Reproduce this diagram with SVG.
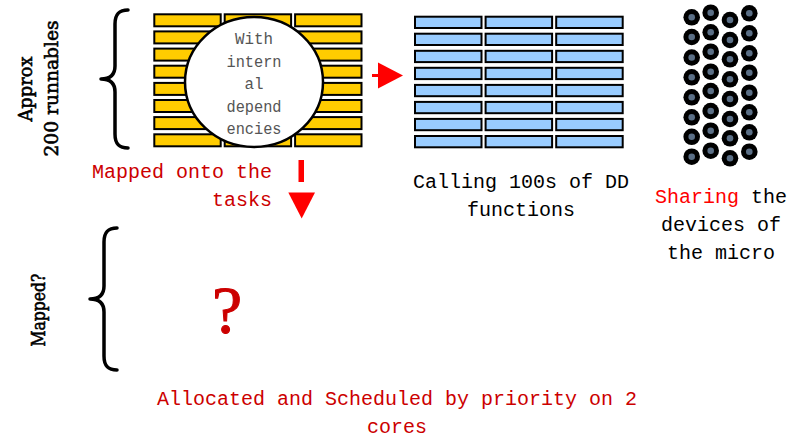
<svg xmlns="http://www.w3.org/2000/svg" xmlns:xlink="http://www.w3.org/1999/xlink" width="796" height="439" viewBox="0 0 796 439">
  <style>
    .mono { font-family: "Liberation Mono", "DejaVu Sans Mono", monospace; font-size: 20px; }
    .dark { fill: #cc0000; }
    .black { fill: #000000; }
    .side { font-family: "DejaVu Serif", "Liberation Serif", serif; font-size: 19px; fill: #000000; stroke: #000000; stroke-width: 0.6; text-anchor: middle; }
    .brace { fill: none; stroke: #000000; stroke-width: 3.5; stroke-linecap: round; stroke-linejoin: round; }
    .ybar { fill: #ffcc00; stroke: #000000; stroke-width: 2; }
    .bbar { fill: #99ccff; stroke: #000000; stroke-width: 2; }
    .inner { font-family: "Liberation Mono", "DejaVu Sans Mono", monospace; font-size: 16px; fill: #555555; text-anchor: middle; }
    .arrow { fill: #ff0000; }
  </style>
  <defs>
    <g id="dev">
      <circle r="8.3" fill="#000000"/>
      <circle r="3.3" fill="#5b6f86"/>
    </g>
    <rect id="yb" width="66.4" height="12" class="ybar"/>
    <rect id="bb" width="66.5" height="11.3" class="bbar"/>
  </defs>
  <rect width="796" height="439" fill="#ffffff"/>

  <!-- runnables: side label and brace -->
  <g id="runnables-label">
    <text class="side" transform="translate(31.5,89) rotate(-90)" textLength="65" lengthAdjust="spacingAndGlyphs">Approx</text>
    <text class="side" transform="translate(57.5,88.5) rotate(-90)" textLength="136" lengthAdjust="spacingAndGlyphs">200 runnables</text>
    <path class="brace" d="M128,10 C119,10 115,14 115,24 L115,66 C115,74 111,79 101,79 C111,79 115,84 115,92 L115,134 C115,144 119,148 128,148"/>
  </g>

  <!-- runnables grid with dependency bubble -->
  <g id="runnables">
    <g>
      <use xlink:href="#yb" x="154.3" y="14.3"/><use xlink:href="#yb" x="224.7" y="14.3"/><use xlink:href="#yb" x="295.1" y="14.3"/>
      <use xlink:href="#yb" x="154.3" y="31.4"/><use xlink:href="#yb" x="224.7" y="31.4"/><use xlink:href="#yb" x="295.1" y="31.4"/>
      <use xlink:href="#yb" x="154.3" y="48.6"/><use xlink:href="#yb" x="224.7" y="48.6"/><use xlink:href="#yb" x="295.1" y="48.6"/>
      <use xlink:href="#yb" x="154.3" y="65.7"/><use xlink:href="#yb" x="224.7" y="65.7"/><use xlink:href="#yb" x="295.1" y="65.7"/>
      <use xlink:href="#yb" x="154.3" y="82.9"/><use xlink:href="#yb" x="224.7" y="82.9"/><use xlink:href="#yb" x="295.1" y="82.9"/>
      <use xlink:href="#yb" x="154.3" y="100.0"/><use xlink:href="#yb" x="224.7" y="100.0"/><use xlink:href="#yb" x="295.1" y="100.0"/>
      <use xlink:href="#yb" x="154.3" y="117.1"/><use xlink:href="#yb" x="224.7" y="117.1"/><use xlink:href="#yb" x="295.1" y="117.1"/>
      <use xlink:href="#yb" x="154.3" y="134.3"/><use xlink:href="#yb" x="224.7" y="134.3"/><use xlink:href="#yb" x="295.1" y="134.3"/>
    </g>
    <g id="dependencies">
      <ellipse cx="254" cy="82" rx="69" ry="65" fill="#ffffff" stroke="#000000" stroke-width="2.5"/>
      <text class="inner" x="254" y="43.5" textLength="38" lengthAdjust="spacingAndGlyphs">With</text>
      <text class="inner" x="254" y="66.5" textLength="55" lengthAdjust="spacingAndGlyphs">intern</text>
      <text class="inner" x="254" y="88.5" textLength="19" lengthAdjust="spacingAndGlyphs">al</text>
      <text class="inner" x="254" y="111.5" textLength="55" lengthAdjust="spacingAndGlyphs">depend</text>
      <text class="inner" x="254" y="133.5" textLength="55" lengthAdjust="spacingAndGlyphs">encies</text>
    </g>
  </g>

  <g id="mapped-label">
    <text class="mono dark" x="272" y="178" text-anchor="end">Mapped onto the</text>
    <text class="mono dark" x="272" y="206" text-anchor="end">tasks</text>
  </g>

  <!-- device driver functions -->
  <g id="dd-functions">
    <use xlink:href="#bb" x="415" y="16.7"/><use xlink:href="#bb" x="485.6" y="16.7"/><use xlink:href="#bb" x="556.2" y="16.7"/>
    <use xlink:href="#bb" x="415" y="33.7"/><use xlink:href="#bb" x="485.6" y="33.7"/><use xlink:href="#bb" x="556.2" y="33.7"/>
    <use xlink:href="#bb" x="415" y="50.8"/><use xlink:href="#bb" x="485.6" y="50.8"/><use xlink:href="#bb" x="556.2" y="50.8"/>
    <use xlink:href="#bb" x="415" y="67.8"/><use xlink:href="#bb" x="485.6" y="67.8"/><use xlink:href="#bb" x="556.2" y="67.8"/>
    <use xlink:href="#bb" x="415" y="84.9"/><use xlink:href="#bb" x="485.6" y="84.9"/><use xlink:href="#bb" x="556.2" y="84.9"/>
    <use xlink:href="#bb" x="415" y="101.9"/><use xlink:href="#bb" x="485.6" y="101.9"/><use xlink:href="#bb" x="556.2" y="101.9"/>
    <use xlink:href="#bb" x="415" y="118.9"/><use xlink:href="#bb" x="485.6" y="118.9"/><use xlink:href="#bb" x="556.2" y="118.9"/>
    <use xlink:href="#bb" x="415" y="136.0"/><use xlink:href="#bb" x="485.6" y="136.0"/><use xlink:href="#bb" x="556.2" y="136.0"/>
    <text class="mono black" x="521" y="188" text-anchor="middle">Calling 100s of DD</text>
    <text class="mono black" x="521" y="216" text-anchor="middle">functions</text>
  </g>

  <!-- shared micro devices -->
  <g id="devices">
    <use xlink:href="#dev" x="691.7" y="17.3"/><use xlink:href="#dev" x="691.7" y="37"/><use xlink:href="#dev" x="691.7" y="57.5"/><use xlink:href="#dev" x="691.7" y="77.3"/>
    <use xlink:href="#dev" x="691.7" y="97.3"/><use xlink:href="#dev" x="691.7" y="117.3"/><use xlink:href="#dev" x="691.7" y="136.8"/><use xlink:href="#dev" x="691.7" y="156.7"/>
    <use xlink:href="#dev" x="710.7" y="12.7"/><use xlink:href="#dev" x="710.7" y="32.3"/><use xlink:href="#dev" x="710.7" y="51.7"/><use xlink:href="#dev" x="710.7" y="71.7"/>
    <use xlink:href="#dev" x="710.7" y="91"/><use xlink:href="#dev" x="710.7" y="111"/><use xlink:href="#dev" x="710.7" y="130.7"/><use xlink:href="#dev" x="710.7" y="150.7"/>
    <use xlink:href="#dev" x="730" y="20"/><use xlink:href="#dev" x="730" y="40"/><use xlink:href="#dev" x="730" y="59.3"/><use xlink:href="#dev" x="730" y="79.3"/>
    <use xlink:href="#dev" x="730" y="99"/><use xlink:href="#dev" x="730" y="119"/><use xlink:href="#dev" x="730" y="138.3"/><use xlink:href="#dev" x="730" y="158.3"/>
    <use xlink:href="#dev" x="749.3" y="13.3"/><use xlink:href="#dev" x="749.3" y="33.3"/><use xlink:href="#dev" x="749.3" y="53.3"/><use xlink:href="#dev" x="749.3" y="72.7"/>
    <use xlink:href="#dev" x="749.3" y="92.7"/><use xlink:href="#dev" x="749.3" y="112.3"/><use xlink:href="#dev" x="749.3" y="132.3"/><use xlink:href="#dev" x="749.3" y="151.7"/>
    <text class="mono black" x="721" y="203" text-anchor="middle"><tspan fill="#ff0000">Sharing</tspan> the</text>
    <text class="mono black" x="721" y="231" text-anchor="middle">devices of</text>
    <text class="mono black" x="721" y="259" text-anchor="middle">the micro</text>
  </g>

  <!-- lower stage: mapping onto cores -->
  <g id="cores-label">
    <text class="side" transform="translate(44.5,310) rotate(-90)" textLength="73" lengthAdjust="spacingAndGlyphs">Mapped?</text>
    <path class="brace" d="M117,228 C108,228 104,232 104,242 L104,286 C104,294 100,299 90,299 C100,299 104,304 104,312 L104,356 C104,366 108,370 117,370"/>
  </g>

  <g id="unknown">
    <text x="227" y="333" text-anchor="middle" font-family="Liberation Serif, serif" font-size="68" fill="#cc0000" stroke="#cc0000" stroke-width="1">?</text>
  </g>

  <g id="allocation">
    <text class="mono dark" x="397" y="405" text-anchor="middle">Allocated and Scheduled by priority on 2</text>
    <text class="mono dark" x="397" y="433" text-anchor="middle">cores</text>
  </g>

  <!-- connectors -->
  <g id="connectors">
    <g id="to-functions">
      <rect class="arrow" x="372" y="74" width="7" height="3"/>
      <polygon class="arrow" points="378,62.5 403,75.5 378,88.5"/>
    </g>
    <g id="to-tasks">
      <rect class="arrow" x="298.5" y="160" width="5.5" height="22"/>
      <polygon class="arrow" points="288.3,192.5 315,192.5 301.7,218.5"/>
    </g>
  </g>
</svg>
